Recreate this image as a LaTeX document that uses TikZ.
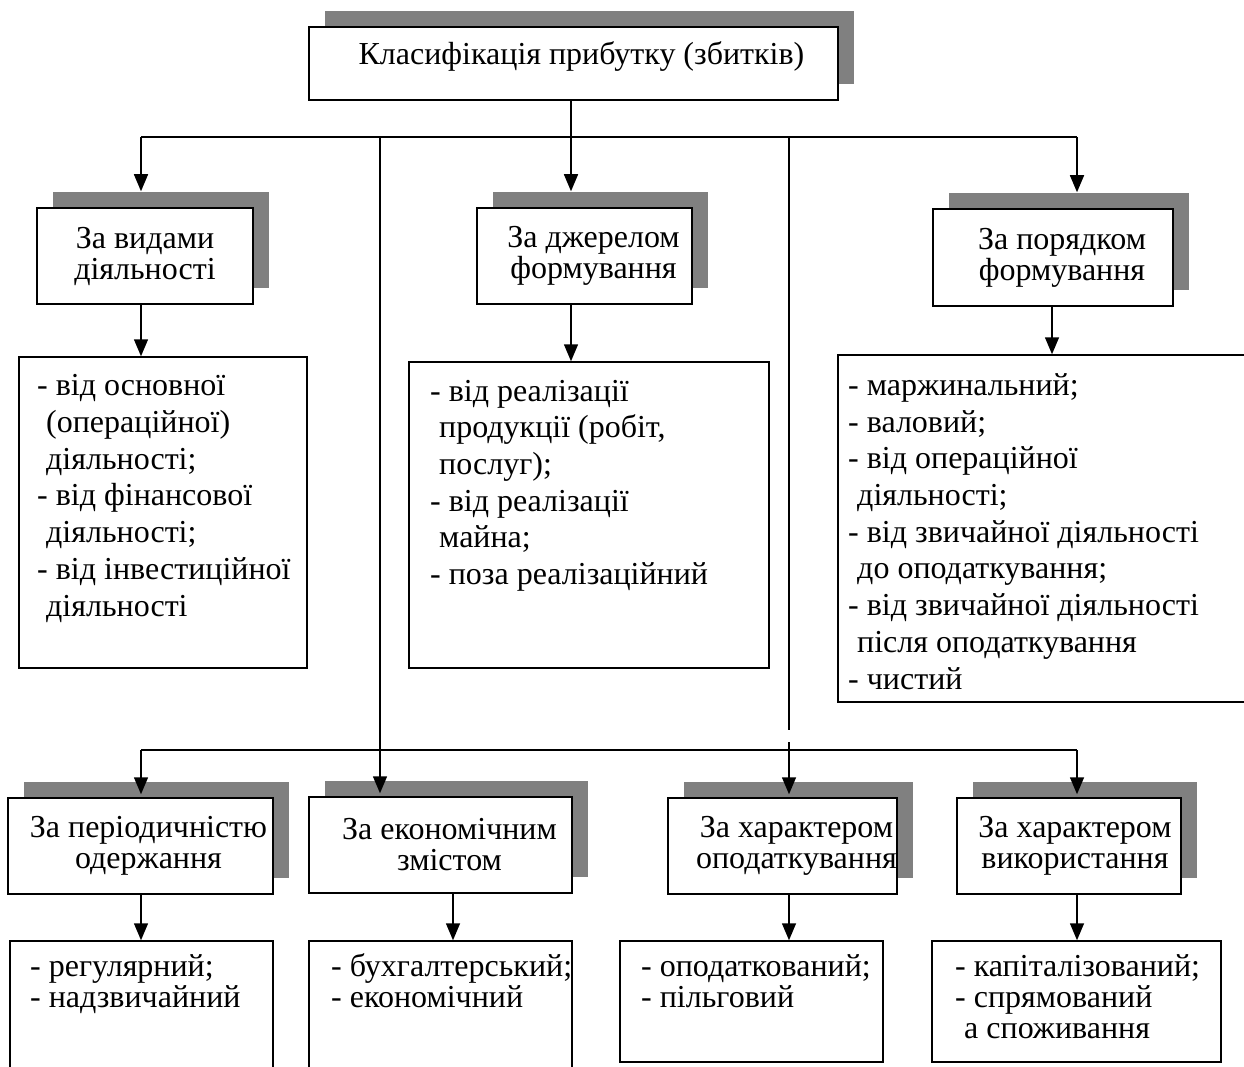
\documentclass[tikz,border=0pt]{standalone}
\usepackage{fontspec}
\setmainfont{Liberation Serif}
\usetikzlibrary{arrows.meta, shadows}
\definecolor{shadowgray}{HTML}{808080}
\newcommand{\lind}{\hspace*{9pt}}
\newcommand{\hs}[1]{\hspace*{#1pt}}

\begin{document}
\begin{tikzpicture}[x=1pt, y=-1pt,
            hdr/.style={rectangle, draw=black, fill=white, line width=1.5pt, align=center, inner sep=0pt, font=\fontsize{32}{31}\selectfont, drop shadow={shadow xshift=16pt, shadow yshift=16pt, fill=shadowgray, opacity=1}},
            lst/.style={rectangle, draw=black, line width=1.5pt, inner sep=0pt},
            txt/.style={anchor=base west, align=left, inner sep=0pt, font=\fontsize{32}{36.7}\selectfont},
            txts/.style={txt, font=\fontsize{32}{31}\selectfont},
            ln/.style={line width=1.5pt},
            arr/.style={line width=1.5pt, -{Triangle[length=17pt, width=14pt]}}]
            \useasboundingbox (0,0) rectangle (1244,1067);
            \clip (0,0) rectangle (1244,1067);
            % title
            \node[hdr, font=\fontsize{32}{37}\selectfont, text depth=21pt, minimum width=529, minimum height=73] (top) at (573.5,63.5) {\hs{16}Класифікація прибутку (збитків)};
            % upper row
            \node[hdr, minimum width=216, minimum height=96] (h1) at (145,256) {За видами\\діяльності};
            \node[hdr, minimum width=215, minimum height=96] (h2) at (584.5,256) {\hs{18}За джерелом\\\hs{18}формування};
            \node[hdr, minimum width=240, minimum height=97] (h3) at (1053,257.5) {\hs{18}За порядком\\\hs{18}формування};
            \node[lst, minimum width=288, minimum height=311] (c1) at (163,512.5) {};
            \node[lst, minimum width=360, minimum height=306] (c2) at (589,515) {};
            \node[lst, minimum width=412, minimum height=347] (c3) at (1044,528.5) {};
            % text nodes sit on the baseline of their last line
            \node[txt] (t1) at (37,616) {- від основної\\\lind(операційної)\\\lind діяльності;\\- від фінансової\\\lind діяльності;\\- від інвестиційної\\\lind діяльності};
            \node[txt] (t2) at (430,584.5) {- від реалізації\\\lind продукції (робіт,\\\lind послуг);\\- від реалізації\\\lind майна;\\- поза реалізаційний};
            \node[txt] (t3) at (848,689) {- маржинальний;\\- валовий;\\- від операційної\\\lind діяльності;\\- від звичайної діяльності\\\lind до оподаткування;\\- від звичайної діяльності\\\lind після оподаткування\\- чистий};
            % lower row
            \node[hdr, minimum width=265, minimum height=96] (b1) at (140.5,846) {\hs{16}За періодичністю\\\hs{16}одержання};
            \node[hdr, minimum width=263, minimum height=96] (b2) at (440.5,845) {\hs{18}За економічним\\\hs{18}змістом};
            \node[hdr, minimum width=229, minimum height=96] (b3) at (782.5,846) {\hs{28}За характером\\\hs{28}оподаткування};
            \node[hdr, minimum width=224, minimum height=96] (b4) at (1069,846) {\hs{12}За характером\\\hs{12}використання};
            \node[lst, minimum width=263, minimum height=139] (d1) at (141.5,1010.5) {};
            \node[lst, minimum width=263, minimum height=139] (d2) at (440.5,1010.5) {};
            \node[lst, minimum width=263, minimum height=121] (d3) at (751.5,1001.5) {};
            \node[lst, minimum width=289, minimum height=121] (d4) at (1076.5,1001.5) {};
            \node[txts] (u1) at (30,1007) {- регулярний;\\- надзвичайний};
            \node[txts] (u2) at (331,1007) {- бухгалтерський;\\- економічний};
            \node[txts] (u3) at (641,1007) {- оподаткований;\\- пільговий};
            \node[txts] (u4) at (955,1038) {- капіталізований;\\- спрямований\\\lind а споживання};
            % connectors
            \coordinate (k1) at (141,137);
            \coordinate (k2) at (571,137);
            \coordinate (k3) at (380,137);
            \coordinate (k4) at (789,137);
            \coordinate (k5) at (1077,137);
            \coordinate (m1) at (141,750);
            \coordinate (m5) at (1077,750);
            \coordinate (gap1) at (789,730);
            \coordinate (gap2) at (789,742);
            \draw[ln] (top.south -| k2) -- (k2);
            \draw[ln] (k1) -- (k5);
            \draw[arr] (k1) -- ([yshift=16pt]h1.north -| k1);
            \draw[arr] (k2) -- ([yshift=16pt]h2.north -| k2);
            \draw[arr] (k5) -- ([yshift=16pt]h3.north -| k5);
            \draw[arr] (h1.south -| k1) -- (c1.north -| k1);
            \draw[arr] (h2.south -| k2) -- (c2.north -| k2);
            \draw[arr] (h3.south -| 1052,0) -- (c3.north -| 1052,0);
            \draw[ln] (m1) -- (m5);
            \draw[arr] (k3) -- ([yshift=3pt]b2.north -| k3);
            \draw[ln] (k4) -- (gap1);
            \draw[arr] (gap2) -- ([yshift=3pt]b3.north -| gap2);
            \draw[arr] (m1) -- ([yshift=3pt]b1.north -| m1);
            \draw[arr] (m5) -- ([yshift=3pt]b4.north -| m5);
            \draw[arr] (b1.south -| k1) -- (d1.north -| k1);
            \draw[arr] (b2.south -| 453,0) -- (d2.north -| 453,0);
            \draw[arr] (b3.south -| k4) -- (d3.north -| k4);
            \draw[arr] (b4.south -| k5) -- (d4.north -| k5);
        \end{tikzpicture}
\end{document}
